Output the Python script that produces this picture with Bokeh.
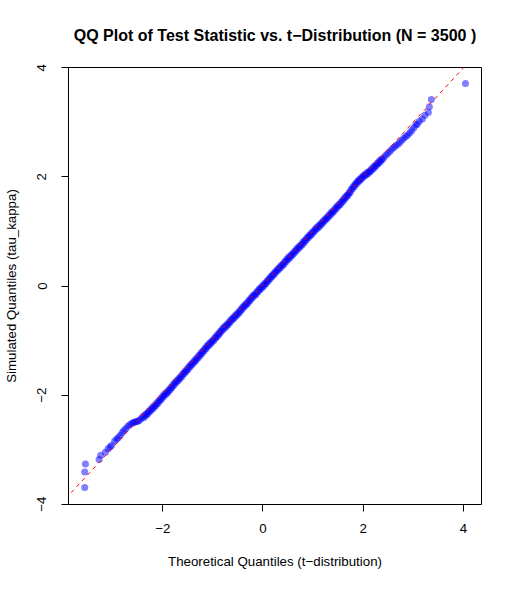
from bokeh.plotting import figure
from bokeh.models import FixedTicker, Slope, Range1d
from bokeh.embed import file_html
from bokeh.resources import INLINE

title_text = "QQ Plot of Test Statistic vs. t\u2212Distribution (N = 3500 )"
x_label = "Theoretical Quantiles (t\u2212distribution)"
y_label = "Simulated Quantiles (tau_kappa)"
x_ticks = [-2, 0, 2, 4]
y_ticks = [-4, -2, 0, 2, 4]
x_tick_labels = ["\u22122", "0", "2", "4"]
y_tick_labels = ["\u22124", "\u22122", "0", "2", "4"]

# reference line (qqline)
qq_slope = 0.995
qq_intercept = 0.02

# lower tail
x_low = [-3.556, -3.556, -3.542, -3.27, -3.238, -3.144, -3.09, -3.05, -3.02, -2.96,
         -2.92, -2.89, -2.85, -2.81, -2.78, -2.74, -2.70, -2.66, -2.62, -2.59,
         -2.56, -2.53, -2.50, -2.47, -2.44]
y_low = [-3.695, -3.41, -3.264, -3.178, -3.10, -3.045, -2.983, -2.95, -2.922, -2.844,
         -2.81, -2.782, -2.74, -2.69, -2.655, -2.615, -2.575, -2.545, -2.52, -2.505,
         -2.495, -2.49, -2.48, -2.465, -2.44]

# central body
x_mid = [-2.40, -2.38, -2.36, -2.34, -2.32, -2.30, -2.28, -2.26, -2.24, -2.22,
         -2.20, -2.18, -2.16, -2.14, -2.12, -2.10, -2.08, -2.06, -2.04, -2.02,
         -2.00, -1.98, -1.96, -1.94, -1.92, -1.90, -1.88, -1.86, -1.84, -1.82,
         -1.80, -1.78, -1.76, -1.74, -1.72, -1.70, -1.68, -1.66, -1.64, -1.62,
         -1.60, -1.58, -1.56, -1.54, -1.52, -1.50, -1.48, -1.46, -1.44, -1.42,
         -1.40, -1.38, -1.36, -1.34, -1.32, -1.30, -1.28, -1.26, -1.24, -1.22,
         -1.20, -1.18, -1.16, -1.14, -1.12, -1.10, -1.08, -1.06, -1.04, -1.02,
         -1.00, -0.98, -0.96, -0.94, -0.92, -0.90, -0.88, -0.86, -0.84, -0.82,
         -0.80, -0.78, -0.76, -0.74, -0.72, -0.70, -0.68, -0.66, -0.64, -0.62,
         -0.60, -0.58, -0.56, -0.54, -0.52, -0.50, -0.48, -0.46, -0.44, -0.42,
         -0.40, -0.38, -0.36, -0.34, -0.32, -0.30, -0.28, -0.26, -0.24, -0.22,
         -0.20, -0.18, -0.16, -0.14, -0.12, -0.10, -0.08, -0.06, -0.04, -0.02,
         0.00, 0.02, 0.04, 0.06, 0.08, 0.10, 0.12, 0.14, 0.16, 0.18,
         0.20, 0.22, 0.24, 0.26, 0.28, 0.30, 0.32, 0.34, 0.36, 0.38,
         0.40, 0.42, 0.44, 0.46, 0.48, 0.50, 0.52, 0.54, 0.56, 0.58,
         0.60, 0.62, 0.64, 0.66, 0.68, 0.70, 0.72, 0.74, 0.76, 0.78,
         0.80, 0.82, 0.84, 0.86, 0.88, 0.90, 0.92, 0.94, 0.96, 0.98,
         1.00, 1.02, 1.04, 1.06, 1.08, 1.10, 1.12, 1.14, 1.16, 1.18,
         1.20, 1.22, 1.24, 1.26, 1.28, 1.30, 1.32, 1.34, 1.36, 1.38,
         1.40, 1.42, 1.44, 1.46, 1.48, 1.50, 1.52, 1.54, 1.56, 1.58,
         1.60, 1.62, 1.64, 1.66, 1.68, 1.70, 1.72, 1.74, 1.76, 1.78,
         1.80, 1.82, 1.84, 1.86, 1.88, 1.90, 1.92, 1.94, 1.96, 1.98,
         2.00, 2.02, 2.04, 2.06, 2.08, 2.10, 2.12, 2.14, 2.16, 2.18,
         2.20, 2.22, 2.24, 2.26, 2.28, 2.30, 2.32, 2.34, 2.36, 2.38]
y_mid = [-2.395, -2.415, -2.365, -2.38, -2.335, -2.345, -2.295, -2.305, -2.26, -2.27,
         -2.22, -2.235, -2.185, -2.195, -2.145, -2.16, -2.105, -2.11, -2.06, -2.07,
         -2.015, -2.025, -1.975, -1.99, -1.945, -1.955, -1.905, -1.91, -1.86, -1.87,
         -1.815, -1.825, -1.77, -1.78, -1.73, -1.74, -1.695, -1.705, -1.655, -1.665,
         -1.61, -1.615, -1.565, -1.575, -1.525, -1.535, -1.48, -1.49, -1.44, -1.45,
         -1.40, -1.405, -1.355, -1.37, -1.32, -1.325, -1.275, -1.285, -1.23, -1.24,
         -1.19, -1.195, -1.145, -1.155, -1.10, -1.11, -1.06, -1.075, -1.025, -1.035,
         -0.99, -1.00, -0.95, -0.955, -0.905, -0.915, -0.86, -0.87, -0.82, -0.825,
         -0.775, -0.785, -0.74, -0.75, -0.705, -0.715, -0.665, -0.67, -0.62, -0.63,
         -0.58, -0.595, -0.545, -0.555, -0.51, -0.52, -0.47, -0.475, -0.425, -0.43,
         -0.38, -0.39, -0.345, -0.355, -0.305, -0.315, -0.26, -0.27, -0.22, -0.225,
         -0.175, -0.19, -0.145, -0.155, -0.105, -0.11, -0.06, -0.07, -0.025, -0.035,
         0.015, 0.005, 0.05, 0.04, 0.09, 0.085, 0.135, 0.13, 0.18, 0.17,
         0.215, 0.205, 0.255, 0.25, 0.30, 0.29, 0.335, 0.325, 0.375, 0.36,
         0.41, 0.40, 0.455, 0.445, 0.50, 0.485, 0.535, 0.52, 0.57, 0.56,
         0.605, 0.595, 0.645, 0.64, 0.69, 0.68, 0.725, 0.715, 0.76, 0.75,
         0.805, 0.795, 0.845, 0.84, 0.89, 0.88, 0.925, 0.915, 0.965, 0.95,
         1.00, 0.995, 1.045, 1.035, 1.08, 1.065, 1.115, 1.105, 1.15, 1.14,
         1.19, 1.18, 1.23, 1.22, 1.265, 1.255, 1.305, 1.295, 1.345, 1.335,
         1.38, 1.37, 1.42, 1.415, 1.465, 1.455, 1.50, 1.49, 1.54, 1.535,
         1.585, 1.575, 1.63, 1.62, 1.67, 1.665, 1.715, 1.715, 1.775, 1.775,
         1.825, 1.82, 1.87, 1.865, 1.915, 1.905, 1.95, 1.94, 1.985, 1.975,
         2.02, 2.01, 2.05, 2.035, 2.08, 2.06, 2.105, 2.095, 2.14, 2.13,
         2.18, 2.165, 2.215, 2.205, 2.25, 2.24, 2.29, 2.275, 2.325, 2.315]

# upper tail
x_high = [2.41, 2.45, 2.49, 2.53, 2.57, 2.61, 2.65, 2.69, 2.73, 2.77,
          2.81, 2.85, 2.89, 2.93, 2.97, 3.01, 3.05, 3.08, 3.12, 3.18,
          3.23, 3.30, 3.32, 3.36, 4.04]
y_high = [2.355, 2.395, 2.43, 2.465, 2.505, 2.54, 2.57, 2.60, 2.63, 2.67,
          2.71, 2.74, 2.77, 2.81, 2.85, 2.90, 2.95, 2.97, 3.02, 3.06,
          3.13, 3.18, 3.285, 3.42, 3.71]

theoretical = x_low + x_mid + x_high
simulated = y_low + y_mid + y_high

FONT = "Liberation Sans"
LABEL_SIZE = "13.3px"

p = figure(width=507, height=581,
           x_range=Range1d(-3.88, 4.36), y_range=Range1d(-4.005, 4.005),
           output_backend="svg", toolbar_location=None,
           min_border_left=67, min_border_right=26,
           min_border_top=67, min_border_bottom=77,
           title=title_text)

p.title.text_font = FONT
p.title.text_font_style = "bold"
p.title.text_font_size = "16px"
p.title.align = "center"
p.title.text_color = "black"
p.title.standoff = 48

p.xgrid.visible = False
p.ygrid.visible = False
p.outline_line_color = "black"
p.outline_line_width = 1
p.outline_line_alpha = 1.0
p.background_fill_color = "white"
p.border_fill_color = "white"

p.scatter(theoretical, simulated, size=7, marker="circle",
          fill_color="blue", fill_alpha=0.5, line_color=None)

p.add_layout(Slope(gradient=qq_slope, y_intercept=qq_intercept,
                   line_color="red", line_dash="4 4", line_width=1))

for ax, ticks, labels in ((p.xaxis[0], x_ticks, x_tick_labels),
                          (p.yaxis[0], y_ticks, y_tick_labels)):
    ax.ticker = FixedTicker(ticks=ticks)
    ax.major_label_overrides = {t: l for t, l in zip(ticks, labels)}
    ax.axis_line_color = None
    ax.major_tick_line_color = "black"
    ax.major_tick_out = 7
    ax.major_tick_in = 0
    ax.minor_tick_line_color = None
    ax.major_label_text_font = FONT
    ax.major_label_text_font_size = LABEL_SIZE
    ax.major_label_text_color = "black"
    ax.axis_label_text_font = FONT
    ax.axis_label_text_font_size = LABEL_SIZE
    ax.axis_label_text_font_style = "normal"
    ax.axis_label_text_color = "black"

p.xaxis.axis_label = x_label
p.yaxis.axis_label = y_label
p.xaxis.major_label_standoff = 12
p.xaxis.axis_label_standoff = 18
p.yaxis.major_label_orientation = "vertical"
p.yaxis.major_label_standoff = 15
p.yaxis.axis_label_standoff = 16

open("out.html", "w").write(file_html(p, INLINE))
